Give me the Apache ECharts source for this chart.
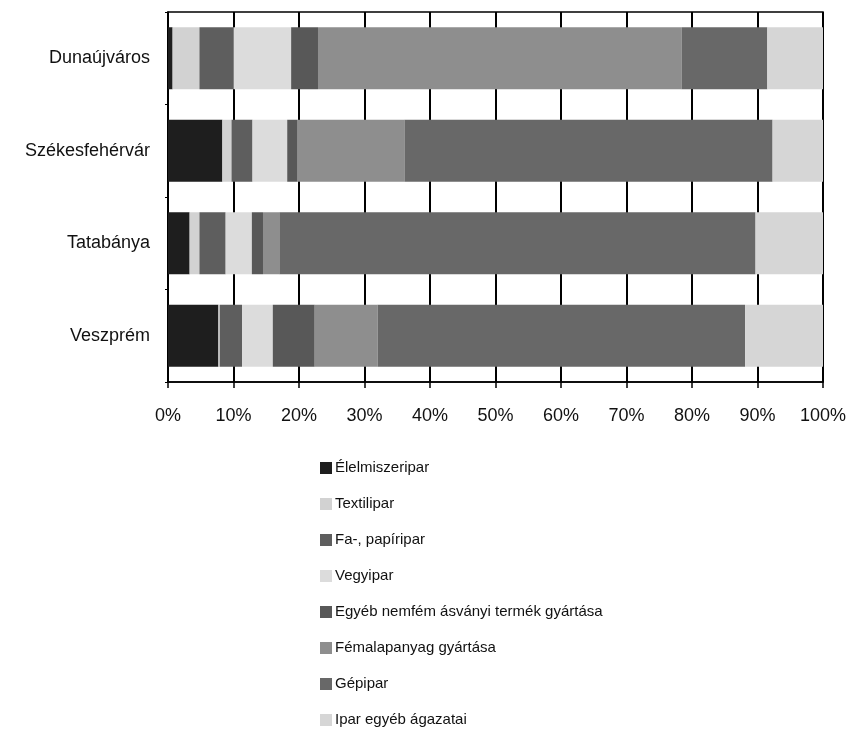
<!DOCTYPE html>
<html>
<head>
<meta charset="utf-8">
<script src="https://cdn.jsdelivr.net/npm/echarts@6/dist/echarts.min.js"></script>
<style>html,body{margin:0;padding:0;background:#fff;}#c{width:851px;height:731px;}</style>
</head>
<body>
<div id="c"></div>
<script>
const cities = ['Dunaújváros', 'Székesfehérvár', 'Tatabánya', 'Veszprém'];
const tickLabels = ['0%','10%','20%','30%','40%','50%','60%','70%','80%','90%','100%'];
const seriesNames = ['Élelmiszeripar','Textilipar','Fa-, papíripar','Vegyipar','Egyéb nemfém ásványi termék gyártása','Fémalapanyag gyártása','Gépipar','Ipar egyéb ágazatai'];
const elelmiszeripar = [0.7, 8.3, 3.3, 7.7];
const textilipar     = [4.1, 1.4, 1.5, 0.2];
const faPapiripar    = [5.2, 3.2, 4.0, 3.4];
const vegyipar       = [8.8, 5.3, 4.0, 4.7];
const egyebNemfem    = [4.1, 1.6, 1.7, 6.4];
const femalapanyag   = [55.5, 16.3, 2.5, 9.6];
const gepipar        = [13.1, 56.2, 72.7, 56.1];
const iparEgyeb      = [8.5, 7.7, 10.3, 11.9];
const seriesValues = [elelmiszeripar, textilipar, faPapiripar, vegyipar, egyebNemfem, femalapanyag, gepipar, iparEgyeb];
const colors = ['#1e1e1e','#d2d2d2','#5e5e5e','#dcdcdc','#585858','#8e8e8e','#686868','#d6d6d6'];

const font = '"Liberation Sans", Arial, sans-serif';
const chart = echarts.init(document.getElementById('c'), null, {renderer: 'canvas'});
chart.setOption({
  animation: false,
  backgroundColor: '#fff',
  grid: {left: 168, right: 28, top: 12, bottom: 349, show: true, borderColor: '#000', borderWidth: 1.5},
  xAxis: {
    type: 'value', min: 0, max: 100, interval: 10,
    axisLine: {show: true, lineStyle: {color: '#000', width: 1.5}},
    axisTick: {show: true, length: 6, lineStyle: {color: '#000', width: 1.5}},
    splitLine: {show: true, lineStyle: {color: '#000', width: 2}},
    axisLabel: {margin: 25, color: '#111', fontFamily: font, fontSize: 18,
      formatter: function (v) { return tickLabels[Math.round(v / 10)]; }}
  },
  yAxis: {
    type: 'category', data: cities, inverse: true,
    axisLine: {show: true, lineStyle: {color: '#000', width: 1.5}},
    axisTick: {show: true, length: 3, lineStyle: {color: '#000'}},
    axisLabel: {margin: 18, color: '#111', fontFamily: font, fontSize: 18}
  },
  legend: {
    orient: 'vertical', left: 315, top: 455, height: 300,
    itemWidth: 12, itemHeight: 12, itemGap: 20,
    icon: 'rect',
    textStyle: {color: '#111', fontFamily: font, fontSize: 15, lineHeight: 16, padding: [0,0,0,-2]},
    data: seriesNames
  },
  series: seriesNames.map(function (name, i) {
    return {
      name: name, type: 'bar', stack: 'total',
      barWidth: 62,
      data: seriesValues[i],
      itemStyle: {color: colors[i]}
    };
  })
});
</script>
</body>
</html>
